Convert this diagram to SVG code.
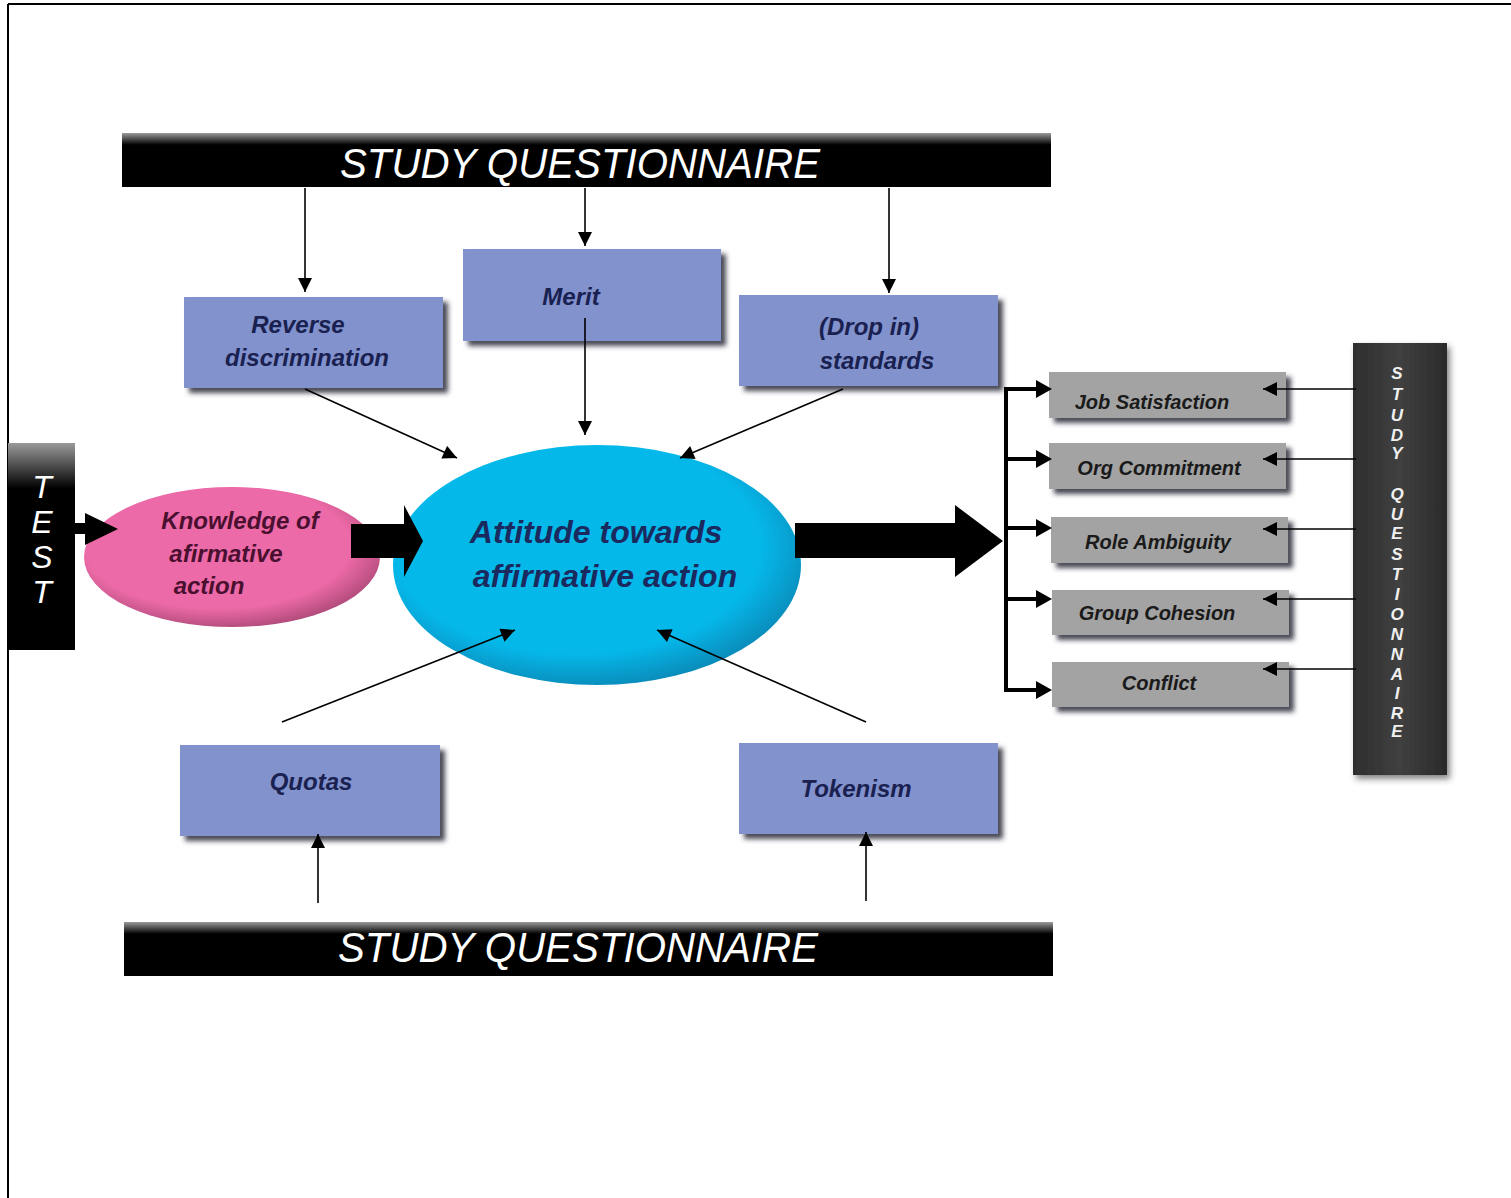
<svg xmlns="http://www.w3.org/2000/svg" width="1511" height="1198" viewBox="0 0 1511 1198">
<defs>
<style>
.lbl{font-family:"Liberation Sans",Arial,sans-serif;font-weight:bold;font-style:italic;text-anchor:middle}
.blue{fill:#8192cd}
.bt{font-size:24px;fill:#1a2150}
.gt{font-size:20px;fill:#1a1a1a}
.gray{fill:#a3a3a3}
.title{font-family:"Liberation Sans",Arial,sans-serif;font-style:italic;font-size:42px;fill:#fff;text-anchor:middle}
.ln{stroke:#000;stroke-width:1.6;fill:none}
.thick{stroke:#000;stroke-width:4;fill:none}
</style>
<marker id="ah" viewBox="0 0 10 10" refX="10" refY="5" markerWidth="10" markerHeight="10" markerUnits="userSpaceOnUse" orient="auto">
<path d="M0,0 L10,5 L0,10 z" fill="#000"/>
</marker>
<marker id="ahs" viewBox="0 0 10 10" refX="10" refY="5" markerWidth="16" markerHeight="14" markerUnits="userSpaceOnUse" orient="auto">
<path d="M0,0 L10,5 L0,10 z" fill="#000"/>
</marker>
<marker id="ahb" viewBox="0 0 10 10" refX="9" refY="5" markerWidth="5" markerHeight="5" orient="auto">
<path d="M0,0 L10,5 L0,10 z" fill="#000"/>
</marker>
<filter id="sh" x="-10%" y="-10%" width="130%" height="140%">
<feDropShadow dx="5" dy="5" stdDeviation="2.5" flood-color="#2a2a3a" flood-opacity="0.85"/>
</filter>
<filter id="soft" x="-10%" y="-10%" width="130%" height="130%">
<feDropShadow dx="3" dy="4" stdDeviation="3" flood-color="#333" flood-opacity="0.6"/>
</filter>
<linearGradient id="barg" x1="0" y1="0" x2="0" y2="1">
<stop offset="0" stop-color="#9a9a9a"/>
<stop offset="0.22" stop-color="#000"/>
<stop offset="1" stop-color="#000"/>
</linearGradient>
<linearGradient id="rbar" x1="0" y1="0" x2="1" y2="0">
<stop offset="0" stop-color="#2e2e2e"/>
<stop offset="0.5" stop-color="#404040"/>
<stop offset="1" stop-color="#2a2a2a"/>
</linearGradient>
<radialGradient id="cyan" cx="0.45" cy="0.42" r="0.6">
<stop offset="0.75" stop-color="#05b8ea"/>
<stop offset="1" stop-color="#0a8ab8"/>
</radialGradient>
<radialGradient id="pink" cx="0.45" cy="0.42" r="0.6">
<stop offset="0.75" stop-color="#ec6aa7"/>
<stop offset="1" stop-color="#b04a7a"/>
</radialGradient>
</defs>
<rect x="0" y="0" width="1511" height="1198" fill="#fff"/>
<g id="frame">
<line x1="8" y1="4" x2="1511" y2="4" stroke="#000" stroke-width="2"/>
<line x1="8" y1="4" x2="8" y2="1198" stroke="#000" stroke-width="2"/>
</g>

<g id="top-bar">
<rect x="122" y="133" width="929" height="54" fill="url(#barg)"/>
<text class="title" x="580" y="178" textLength="480" lengthAdjust="spacingAndGlyphs">STUDY QUESTIONNAIRE</text>
</g>
<g id="bottom-bar">
<rect x="124" y="922" width="929" height="54" fill="url(#barg)"/>
<text class="title" x="578" y="962" textLength="480" lengthAdjust="spacingAndGlyphs">STUDY QUESTIONNAIRE</text>
</g>
<g id="test-bar">
<rect x="8" y="443" width="67" height="207" fill="url(#barg)"/>
<g class="lbl" style="font-size:32px;fill:#fff;font-weight:normal">
<text x="42" y="498">T</text>
<text x="42" y="533">E</text>
<text x="42" y="568">S</text>
<text x="42" y="603">T</text>
</g>
</g>
<g id="right-bar">
<rect x="1353" y="343" width="94" height="432" fill="url(#rbar)" filter="url(#soft)"/>
<g class="lbl" style="font-size:17px;fill:#f0f0f0">
<text x="1397" y="379">S</text>
<text x="1397" y="400">T</text>
<text x="1397" y="421">U</text>
<text x="1397" y="441">D</text>
<text x="1397" y="459">Y</text>
<text x="1397" y="500">Q</text>
<text x="1397" y="520">U</text>
<text x="1397" y="539">E</text>
<text x="1397" y="560">S</text>
<text x="1397" y="580">T</text>
<text x="1397" y="600">I</text>
<text x="1397" y="620">O</text>
<text x="1397" y="640">N</text>
<text x="1397" y="660">N</text>
<text x="1397" y="680">A</text>
<text x="1397" y="699">I</text>
<text x="1397" y="719">R</text>
<text x="1397" y="737">E</text>
</g>
</g>

<g id="reverse-discrimination">
<rect class="blue" x="184" y="297" width="259" height="91" filter="url(#sh)"/>
<text class="lbl bt" x="298" y="333">Reverse</text>
<text class="lbl bt" x="307" y="366">discrimination</text>
</g>
<g id="merit">
<rect class="blue" x="463" y="249" width="258" height="92" filter="url(#sh)"/>
<text class="lbl bt" x="571" y="305">Merit</text>
</g>
<g id="drop-in-standards">
<rect class="blue" x="739" y="295" width="259" height="91" filter="url(#sh)"/>
<text class="lbl bt" x="869" y="335">(Drop in)</text>
<text class="lbl bt" x="877" y="369">standards</text>
</g>
<g id="quotas">
<rect class="blue" x="180" y="745" width="260" height="91" filter="url(#sh)"/>
<text class="lbl bt" x="311" y="790">Quotas</text>
</g>
<g id="tokenism">
<rect class="blue" x="739" y="743" width="259" height="91" filter="url(#sh)"/>
<text class="lbl bt" x="856" y="797">Tokenism</text>
</g>

<g id="knowledge">
<ellipse cx="232" cy="557" rx="148" ry="70" fill="url(#pink)"/>
<g class="lbl" style="font-size:24px;fill:#4a1030">
<text x="240" y="529">Knowledge of</text>
<text x="226" y="562">afirmative</text>
<text x="209" y="594">action</text>
</g>
</g>
<g id="attitude">
<ellipse cx="597" cy="565" rx="204" ry="120" fill="url(#cyan)"/>
<g class="lbl" style="font-size:32px;fill:#1b2a5e">
<text x="596" y="543">Attitude towards</text>
<text x="605" y="587">affirmative action</text>
</g>
</g>

<g id="job-satisfaction">
<rect class="gray" x="1049" y="372" width="237" height="46" filter="url(#sh)"/>
<text class="lbl gt" x="1152" y="409">Job Satisfaction</text>
</g>
<g id="org-commitment">
<rect class="gray" x="1049" y="443" width="237" height="46" filter="url(#sh)"/>
<text class="lbl gt" x="1159" y="475">Org Commitment</text>
</g>
<g id="role-ambiguity">
<rect class="gray" x="1051" y="517" width="237" height="46" filter="url(#sh)"/>
<text class="lbl gt" x="1158" y="549">Role Ambiguity</text>
</g>
<g id="group-cohesion">
<rect class="gray" x="1052" y="590" width="237" height="45" filter="url(#sh)"/>
<text class="lbl gt" x="1157" y="620">Group Cohesion</text>
</g>
<g id="conflict">
<rect class="gray" x="1052" y="662" width="237" height="45" filter="url(#sh)"/>
<text class="lbl gt" x="1159" y="690">Conflict</text>
</g>

<g id="connectors">
<line class="ln" x1="305" y1="188" x2="305" y2="292" marker-end="url(#ahs)"/>
<line class="ln" x1="585" y1="188" x2="585" y2="246" marker-end="url(#ahs)"/>
<line class="ln" x1="889" y1="188" x2="889" y2="293" marker-end="url(#ahs)"/>
<line class="ln" x1="305" y1="389" x2="457" y2="458" marker-end="url(#ahs)"/>
<line class="ln" x1="585" y1="318" x2="585" y2="435" marker-end="url(#ahs)"/>
<line class="ln" x1="843" y1="389" x2="680" y2="458" marker-end="url(#ahs)"/>
<line class="ln" x1="282" y1="722" x2="515" y2="630" marker-end="url(#ahs)"/>
<line class="ln" x1="866" y1="722" x2="657" y2="630" marker-end="url(#ahs)"/>
<line class="ln" x1="318" y1="903" x2="318" y2="834" marker-end="url(#ahs)"/>
<line class="ln" x1="866" y1="901" x2="866" y2="832" marker-end="url(#ahs)"/>
<path d="M75,523 L85,523 L85,513 L118,529 L85,545 L85,534 L75,534 z" fill="#000"/>
<path d="M351,524 L404,524 L404,505 L423,541 L404,577 L404,558 L351,558 z" fill="#000"/>
<path d="M795,523 L955,523 L955,505 L1003,541 L955,577 L955,558 L795,558 z" fill="#000"/>
<path class="thick" d="M1040,389 L1006,389 L1006,690 L1040,690"/>
<line class="thick" x1="1006" y1="459" x2="1040" y2="459"/>
<line class="thick" x1="1006" y1="528" x2="1040" y2="528"/>
<line class="thick" x1="1006" y1="599" x2="1040" y2="599"/>
<path d="M1036,380 L1052,389 L1036,398 z" fill="#000"/>
<path d="M1036,450 L1052,459 L1036,468 z" fill="#000"/>
<path d="M1036,519 L1052,528 L1036,537 z" fill="#000"/>
<path d="M1036,590 L1052,599 L1036,608 z" fill="#000"/>
<path d="M1036,681 L1052,690 L1036,699 z" fill="#000"/>
<line class="ln" x1="1356" y1="389" x2="1263" y2="389" marker-end="url(#ahs)"/>
<line class="ln" x1="1356" y1="459" x2="1263" y2="459" marker-end="url(#ahs)"/>
<line class="ln" x1="1356" y1="529" x2="1263" y2="529" marker-end="url(#ahs)"/>
<line class="ln" x1="1356" y1="599" x2="1263" y2="599" marker-end="url(#ahs)"/>
<line class="ln" x1="1356" y1="669" x2="1263" y2="669" marker-end="url(#ahs)"/>
</g>
</svg>
